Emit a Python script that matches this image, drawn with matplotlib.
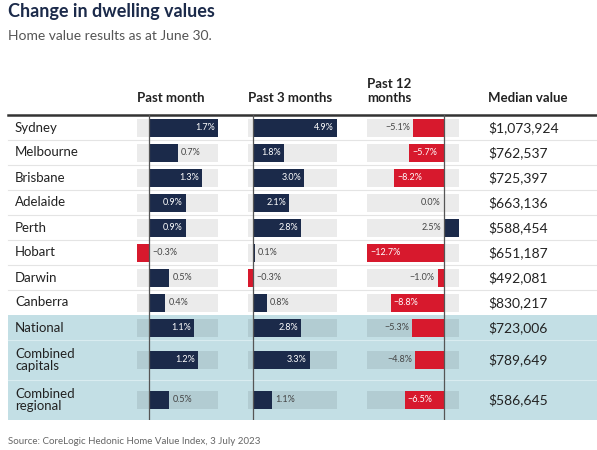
import matplotlib
matplotlib.use("Agg")
from matplotlib import pyplot as plt

plt.rcParams['font.family'] = ['Lato', 'DejaVu Sans']

# data
regions = ["Sydney", "Melbourne", "Brisbane", "Adelaide", "Perth", "Hobart",
           "Darwin", "Canberra", "National", "Combined\ncapitals", "Combined\nregional"]
past_month = [1.7, 0.7, 1.3, 0.9, 0.9, -0.3, 0.5, 0.4, 1.1, 1.2, 0.5]
past_3_months = [4.9, 1.8, 3.0, 2.1, 2.8, 0.1, -0.3, 0.8, 2.8, 3.3, 1.1]
past_12_months = [-5.1, -5.7, -8.2, 0.0, 2.5, -12.7, -1.0, -8.8, -5.3, -4.8, -6.5]
median_value = ["$1,073,924", "$762,537", "$725,397", "$663,136", "$588,454", "$651,187",
                "$492,081", "$830,217", "$723,006", "$789,649", "$586,645"]
headers = ["Past month", "Past 3 months", "Past 12\nmonths", "Median value"]

# layout (pixels)
W, H = 597, 450
NAVY = "#1b2a4a"
RED = "#d7192d"
BLUE = "#c3dfe5"
row_h = [25] * 9 + [40, 40]
top = 115
edges = [top]
for h in row_h:
    edges.append(edges[-1] + h)
centers = [(edges[i] + edges[i + 1]) / 2 for i in range(len(row_h))]
bottom = edges[-1]
n_blue = 3
col_x = [(137, 218), (248, 337), (367, 459)]
med_x = 488

fig = plt.figure(figsize=(W / 100, H / 100), dpi=100)
ax = fig.add_axes([0, 0, 1, 1])
ax.set_xlim(0, W)
ax.set_ylim(H, 0)
ax.axis("off")

ax.text(8, 12, "Change in dwelling values", fontsize=13, fontweight="bold",
        color=NAVY, va="center")
ax.text(8, 36, "Home value results as at June 30.", fontsize=10, color="#555555",
        va="center")

# blue highlight rows
blue_top = edges[-1 - n_blue]
ax.fill_between([8, W], blue_top, bottom, color=BLUE, lw=0, zorder=0)

# row separators
for y in edges[1:-1]:
    if y == blue_top:
        continue
    c = "#e4e4e4" if y < blue_top else "#d9ecf0"
    ax.plot([8, W], [y, y], color=c, lw=0.8, zorder=1)
ax.plot([8, W], [top, top], color="#333333", lw=1.8, zorder=3)

# headers
for (x0, x1), h in zip(col_x, headers[:3]):
    ax.text(x0, 102, h, fontsize=9.5, fontweight="bold", color="#222222",
            va="baseline", linespacing=1.15)
ax.text(med_x, 102, headers[3], fontsize=9.5, fontweight="bold", color="#222222",
        va="baseline")

# row labels and median values
for i, (r, m) in enumerate(zip(regions, median_value)):
    ax.text(15, centers[i], r, fontsize=9.5, color="#222222", va="center",
            linespacing=1.1)
    ax.text(med_x, centers[i], m, fontsize=10, color="#222222", va="center")

ax.text(8, 441, "Source: CoreLogic Hedonic Home Value Index, 3 July 2023",
        fontsize=7, color="#666666", va="center")

# bar columns
for (x0, x1), vals in zip(col_x, [past_month, past_3_months, past_12_months]):
    vmin, vmax = min(vals), max(vals)
    cax = fig.add_axes([x0 / W, 1 - bottom / H, (x1 - x0) / W, (bottom - top) / H])
    cax.set_xlim(vmin, vmax)
    cax.set_ylim(bottom, top)
    cax.axis("off")
    cax.patch.set_alpha(0)
    ppu = (x1 - x0) / (vmax - vmin)
    pad = 3 / ppu
    neg_side = abs(vmin) > abs(vmax)
    bg = ["#ebebeb"] * (len(vals) - n_blue) + ["#b2ccd2"] * n_blue
    cax.barh(centers, vmax - vmin, left=vmin, height=18, color=bg, zorder=1)
    cax.barh(centers, vals, height=18, color=[NAVY if v > 0 else RED for v in vals],
             zorder=2)
    cax.axvline(0, color="#555555", lw=0.9, zorder=3)
    for y, v in zip(centers, vals):
        lab = f"{v:.1f}%".replace("-", "\u2212")
        # label goes inside the bar only when the bar is long enough
        inside = abs(v) * ppu >= 4 * len(lab) + 14
        if inside:
            if v > 0:
                cax.text(v - pad, y, lab, ha="right", va="center", fontsize=6.5,
                         color="white", zorder=4)
            else:
                cax.text(v + pad, y, lab, ha="left", va="center", fontsize=6.5,
                         color="white", zorder=4)
        elif neg_side:
            cax.text(min(v, 0) - pad, y, lab, ha="right", va="center", fontsize=6.5,
                     color="#444444", zorder=4)
        else:
            cax.text(max(v, 0) + pad, y, lab, ha="left", va="center", fontsize=6.5,
                     color="#444444", zorder=4)

fig.savefig("out.png", dpi=100)
